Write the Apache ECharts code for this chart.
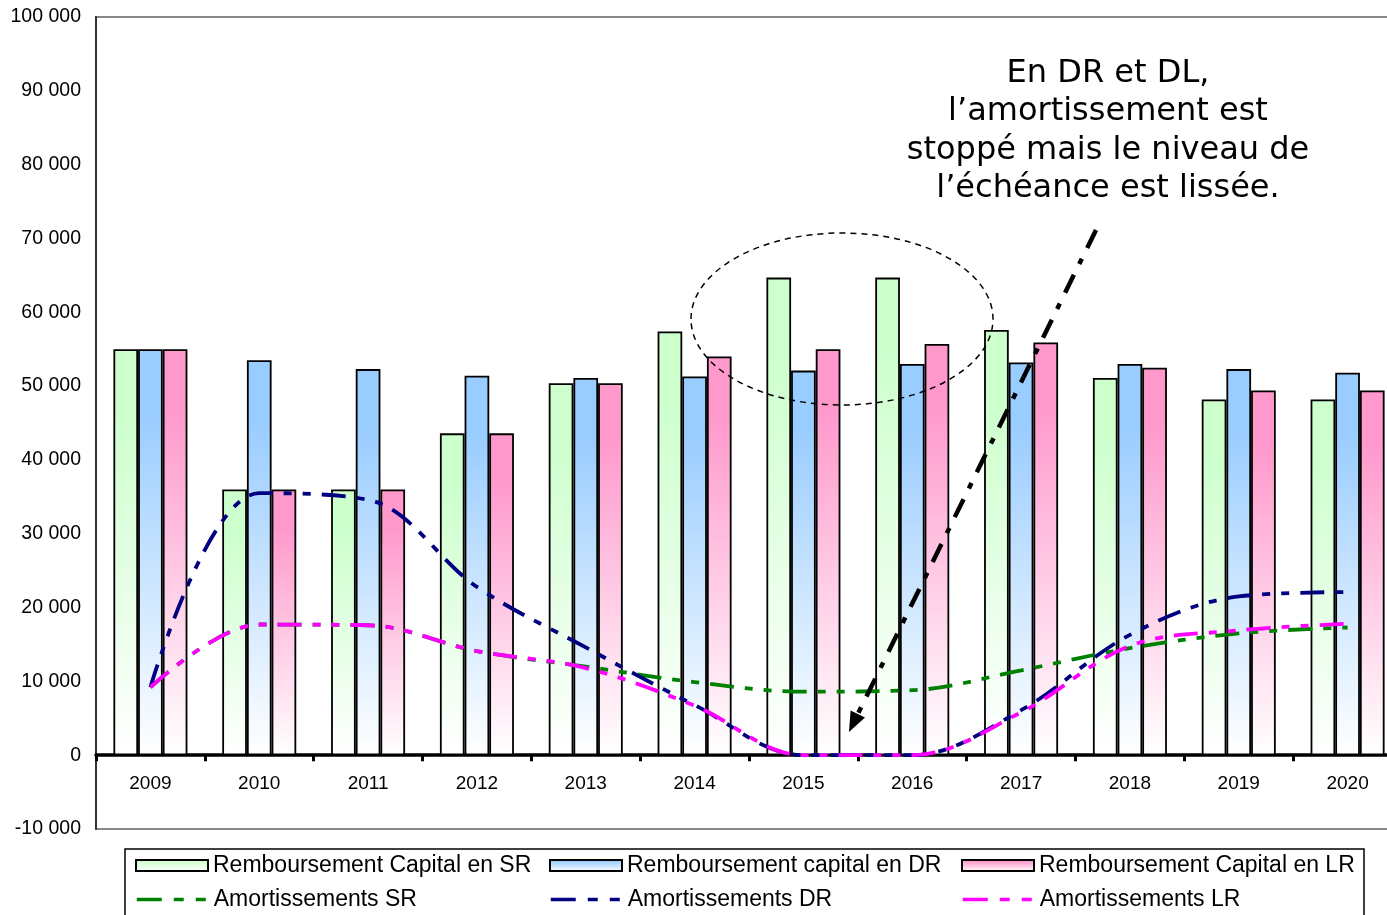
<!DOCTYPE html>
<html><head><meta charset="utf-8">
<script src="https://cdn.jsdelivr.net/npm/echarts@6/dist/echarts.min.js"></script>
<style>html,body{margin:0;padding:0;background:#fff;overflow:hidden}#c{width:1410px;height:915px}</style>
</head><body><div id="c"></div>
<script>
const categories = ['2009','2010','2011','2012','2013','2014','2015','2016','2017','2018','2019','2020'];
const capitalSR = [55000, 36000, 36000, 43600, 50400, 57400, 64700, 64700, 57600, 51100, 48200, 48200];
const capitalDR = [55000, 53500, 52300, 51400, 51100, 51300, 52100, 53000, 53200, 53000, 52300, 51800];
const capitalLR = [55000, 36000, 36000, 43600, 50400, 54000, 55000, 55700, 55900, 52500, 49400, 49400];
const amortSR = [9200, 17700, 17600, 14100, 12000, 9900, 8600, 8800, 11500, 14500, 16500, 17300];
const amortDR = [9200, 35500, 34600, 22800, 14600, 6800, 0, 0, 6100, 16300, 21500, 22100];
const amortLR = [9200, 17700, 17600, 14100, 11800, 6700, 0, 0, 5800, 14800, 16900, 17800];
const yMin = -10000, yMax = 100000, yStep = 10000;
const annotation = 'En DR et DL,\nl’amortissement est\nstoppé mais le niveau de\nl’échéance est lissée.';

const names = ['Remboursement Capital en SR','Remboursement capital en DR','Remboursement Capital en LR',
  'Amortissements SR','Amortissements DR','Amortissements LR'];

function grad(c){
  return {type:'linear',x:0,y:0,x2:0,y2:1,colorStops:[{offset:0,color:c},{offset:0.15,color:c},{offset:1,color:'#ffffff'}]};
}
function fmt(v){
  const s = String(Math.abs(v)).replace(/\B(?=(\d{3})+(?!\d))/g,' ');
  return (v<0?'-':'')+s;
}
const dash = [24,11,8,11,8,11];
const legendDash = [25,12,10,12,10,12];
const FONT = 'Liberation Sans, Arial, sans-serif';
const gridTop = 17, gridH = 812;
const zeroOffset = -gridH * (0 - yMin) / (yMax - yMin);

function barSeries(name, data, c){
  return {name, type:'bar', data, barGap:'0%', barCategoryGap:'32%',
    itemStyle:{color:grad(c), borderColor:'#000', borderWidth:1.8}};
}
function lineSeries(name, data, c){
  return {name, type:'line', data, smooth:0.35, symbol:'none', z:3,
    lineStyle:{color:c, width:3.8, type:dash}, itemStyle:{color:c}};
}
function leg(name, left, top, isBar){
  const o = {show:true, data:[name], left, top, padding:0, itemWidth:72, itemHeight: isBar?11:10,
    selectedMode:false,
    textStyle:{fontSize:23, fontFamily:FONT, color:'#000'}};
  if (isBar) o.icon = 'rect';
  else { o.itemStyle = {opacity:0}; o.lineStyle = {width:3.5, opacity:1, type:legendDash}; }
  return o;
}

const chart = echarts.init(document.getElementById('c'));
chart.setOption({
  animation:false,
  backgroundColor:'#fff',
  grid:{left:96, top:gridTop, width:1306, height:gridH, show:true, borderColor:'#888', borderWidth:2, backgroundColor:'transparent'},
  xAxis:{type:'category', data:categories, boundaryGap:true, position:'bottom', offset:zeroOffset,
    axisLine:{onZero:false, lineStyle:{color:'#000', width:3.5}},
    axisTick:{show:true, length:6, lineStyle:{color:'#000', width:3}},
    axisLabel:{fontSize:19, fontFamily:FONT, color:'#000', margin:19},
    splitLine:{show:false}},
  yAxis:{type:'value', min:yMin, max:yMax, interval:yStep,
    axisLine:{show:true, onZero:false, lineStyle:{color:'#333', width:2}},
    axisTick:{show:false},
    axisLabel:{fontSize:19.5, fontFamily:FONT, color:'#000', margin:15, formatter:fmt},
    splitLine:{show:false}},
  legend:[
    leg(names[0], 135, 854, true), leg(names[1], 549, 854, true), leg(names[2], 961, 854, true),
    leg(names[3], 135, 888, false), leg(names[4], 549, 888, false), leg(names[5], 961, 888, false)
  ],
  series:[
    barSeries(names[0], capitalSR, '#CCFFCC'),
    barSeries(names[1], capitalDR, '#99CCFF'),
    barSeries(names[2], capitalLR, '#FF99CC'),
    lineSeries(names[3], amortSR, '#008000'),
    lineSeries(names[4], amortDR, '#000080'),
    lineSeries(names[5], amortLR, '#FF00FF')
  ],
  graphic:[
    {type:'rect', shape:{x:125, y:849, width:1239, height:90}, style:{fill:'none', stroke:'#000', lineWidth:1.5}, z:1},
    {type:'ellipse', shape:{cx:842, cy:319, rx:151, ry:86}, style:{fill:'none', stroke:'#000', lineWidth:1.5, lineDash:[6,5]}, z:10},
    {type:'line', shape:{x1:1096, y1:230, x2:857.8, y2:714.1}, style:{stroke:'#000', lineWidth:4.5, lineDash:[20,12,6,12]}, z:10},
    {type:'polygon', shape:{points:[[849,732],[865,717.6],[850.6,710.5]]}, style:{fill:'#000'}, z:10},
    {type:'text', x:1108, y:54, style:{text:annotation, font:'32px "DejaVu Sans", Verdana, sans-serif', fill:'#000', align:'center', verticalAlign:'top', lineHeight:38.5}, z:10}
  ]
});
</script></body></html>
